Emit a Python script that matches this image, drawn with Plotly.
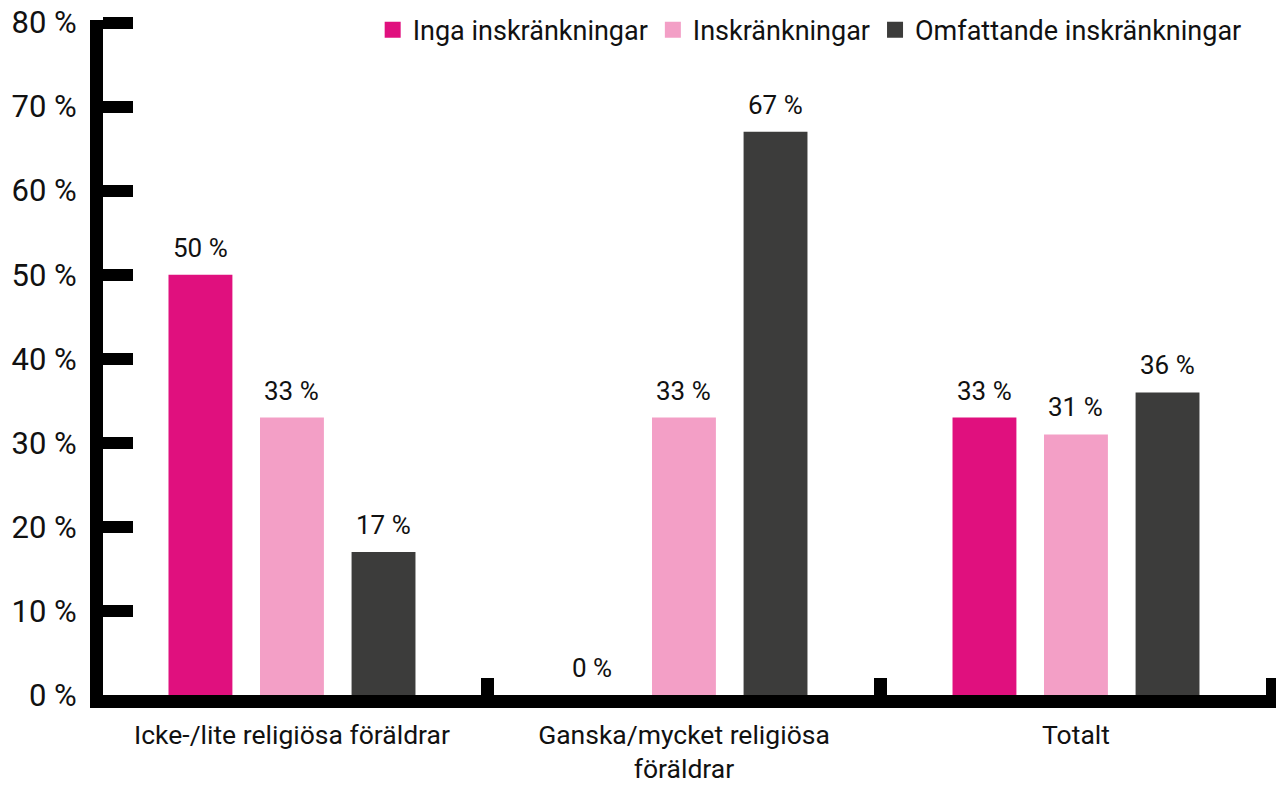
import plotly.graph_objects as go

# ---- data ----
categories = ["Icke-/lite religiösa föräldrar", "Ganska/mycket religiösa<br>föräldrar", "Totalt"]
series_names = ["Inga inskränkningar", "Inskränkningar", "Omfattande inskränkningar"]
inga_values = [50, 0, 33]
inskr_values = [33, 33, 31]
omfatt_values = [17, 67, 36]
y_tick_values = [0, 10, 20, 30, 40, 50, 60, 70, 80]
y_tick_labels = ["0 %", "10 %", "20 %", "30 %", "40 %", "50 %", "60 %", "70 %", "80 %"]

# ---- style ----
colors = ["#E0107E", "#F39FC6", "#3C3C3B"]
bar_width = 0.163
bar_offsets = [-0.315, -0.0816, 0.152]
FONT = "Roboto"
TXT = "#111111"

fig = go.Figure()
all_series = [inga_values, inskr_values, omfatt_values]
for name, vals, color, off in zip(series_names, all_series, colors, bar_offsets):
    fig.add_trace(go.Bar(x=categories, y=vals, name=name, marker_color=color,
                         marker_line_width=0, width=bar_width, offset=off,
                         showlegend=False, hoverinfo="skip"))
    for i, v in enumerate(vals):
        fig.add_annotation(x=i + off + bar_width / 2, y=v, xref="x", yref="y",
                           text=f"{v} %", showarrow=False, yanchor="bottom",
                           yshift=10, font=dict(family=FONT, size=26, color=TXT))

# legend entries
for name, color in zip(series_names, colors):
    fig.add_trace(go.Scatter(x=[None], y=[None], mode="markers", name=name,
                             marker=dict(symbol="square", size=17, color=color)))

fig.update_layout(
    width=1276, height=787,
    margin=dict(l=103, r=0, t=20, b=92, pad=0, autoexpand=False),
    paper_bgcolor="white", plot_bgcolor="white",
    font=dict(family=FONT, color=TXT),
    barmode="group",
    legend=dict(orientation="h", x=0.975, xanchor="right", y=0.985, yanchor="middle",
                font=dict(family=FONT, size=27, color=TXT), bgcolor="rgba(0,0,0,0)",
                itemwidth=30, traceorder="normal"),
)
fig.update_xaxes(type="category", range=[-0.4821, 2.5102], showline=True, linewidth=13,
                 linecolor="black", ticks="inside", tickson="boundaries", ticklen=17,
                 tickwidth=13, tickcolor="black", showgrid=False, ticklabelstandoff=4,
                 automargin=False, tickfont=dict(family=FONT, size=26.5, color=TXT))
fig.update_yaxes(range=[0, 80.3], tickvals=y_tick_values, ticktext=y_tick_labels,
                 showline=True, linewidth=13, linecolor="black", ticks="inside",
                 ticklen=30, tickwidth=12, tickcolor="black", showgrid=False,
                 zeroline=False, ticklabelstandoff=7, automargin=False,
                 tickfont=dict(family=FONT, size=31, color=TXT))

fig.write_html("out.html", config={"displayModeBar": False},
               post_script="document.body.style.margin='0px';"
                           "document.body.style.overflow='hidden';")
